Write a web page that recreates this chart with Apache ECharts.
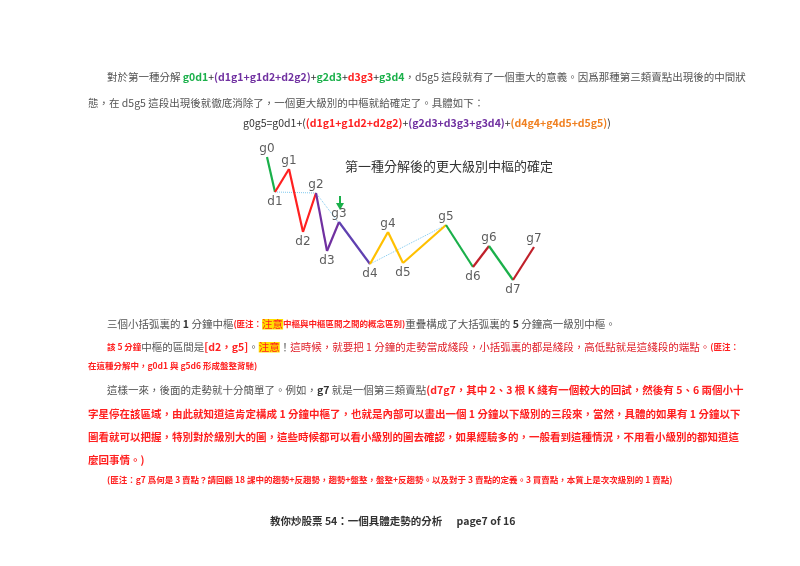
<!DOCTYPE html><html><head><meta charset="utf-8"><script src="https://cdn.jsdelivr.net/npm/echarts@6/dist/echarts.min.js"></script>
<style>body{margin:0;background:#fff}#c{width:800px;height:566px}</style></head><body><div id="c"></div><script>
const pointNames=['g0','d1','g1','d2','g2','d3','g3','d4','g4','d5','g5','d6','g6','d7','g7'];
const timeVals=[267,275,289,303,316,327,339,370,388,403,446,473,489,513,534];
const priceVals=[143,108,131,68,107,49,78,36,68,37,75,33,54,20,53];
const segColors=['#1ab04a','#ff2020','#ff2020','#ff2020','#7030a0','#7030a0','#6040b0','#ffc000','#ffc000','#ffc000','#1ab04a','#c0202a','#1ab04a','#c0202a'];
const labelBelow=[false,true,false,true,false,true,false,true,false,true,false,true,false,true,false];
const dottedPairs=[[1,4],[4,7],[7,10]];
const F='"Noto Sans CJK TC","Noto Sans CJK SC",sans-serif';
const series=[];
for(let i=0;i<segColors.length;i++){series.push({type:'line',data:[[timeVals[i],priceVals[i]],[timeVals[i+1],priceVals[i+1]]],symbol:'none',lineStyle:{color:segColors[i],width:2.2},silent:true});}
dottedPairs.forEach(p=>series.push({type:'line',data:[[timeVals[p[0]],priceVals[p[0]]],[timeVals[p[1]],priceVals[p[1]]]],symbol:'none',lineStyle:{color:'#7fc8ee',width:1,type:'dotted'},z:1}));
series.push({type:'scatter',symbolSize:0,data:pointNames.map((n,i)=>({value:[timeVals[i],priceVals[i]],label:{show:true,formatter:n,position:labelBelow[i]?'bottom':'top',distance:labelBelow[i]?4:2,fontSize:12,color:'#333',fontFamily:'DejaVu Sans'}}))});
const g='#555';
const S=10.5;
const R={g:{fill:g,fontSize:S,fontFamily:F},gb:{fill:'#333',fontSize:S,fontWeight:'bold',fontFamily:F},gr:{fill:'#1ab04a',fontWeight:'bold',fontSize:S,fontFamily:F},pu:{fill:'#7030a0',fontWeight:'bold',fontSize:S,fontFamily:F},re:{fill:'#ff2020',fontWeight:'bold',fontSize:S,fontFamily:F},or:{fill:'#f08020',fontWeight:'bold',fontSize:S,fontFamily:F},rs:{fill:'#ff2020',fontSize:8.5,fontWeight:'bold',fontFamily:F},hl:{fill:'#ff2020',backgroundColor:'#ffe000',fontSize:S,fontFamily:F},rn:{fill:'#e0202a',fontSize:S,fontFamily:F},k:{fill:'#333',fontSize:S,fontFamily:F}};
const texts=[
[107,72,'{g|對於第一種分解 }{gr|g0d1}{k|+}{pu|(d1g1+g1d2+d2g2)}{k|+}{gr|g2d3}{k|+}{re|d3g3}{k|+}{gr|g3d4}{g|，d5g5 這段就有了一個重大的意義。因爲那種第三類賣點出現後的中間狀}'],
[88,98,'{g|態，在 d5g5 這段出現後就徹底消除了，一個更大級別的中樞就給確定了。具體如下：}'],
[243,118,'{k|g0g5=g0d1+(}{re|(d1g1+g1d2+d2g2)}{k|+}{pu|(g2d3+d3g3+g3d4)}{k|+}{or|(d4g4+g4d5+d5g5)}{k|)}'],
[107,319,'{g|三個小括弧裏的 }{gb|1}{g| 分鐘中樞}{rs|(匪注：}{hl|注意}{rs|中樞與中樞區間之間的概念區別)}{g|重疊構成了大括弧裏的 }{gb|5}{g| 分鐘高一級別中樞。}'],
[107,342,'{rs|該 5 分鐘}{g|中樞的區間是}{re|[d2，g5]}{g|。}{hl|注意}{g|！}{rn|這時候，就要把 1 分鐘的走勢當成綫段，小括弧裏的都是綫段，高低點就是這綫段的端點。}{rs|(匪注：}'],
[88,362,'{rs|在這種分解中，g0d1 與 g5d6 形成盤整背馳)}'],
[107,385,'{g|這樣一來，後面的走勢就十分簡單了。例如，}{gb|g7}{g| 就是一個第三類賣點}{re|(d7g7，其中 2、3 根 K 綫有一個較大的回試，然後有 5、6 兩個小十}'],
[88,409,'{re|字星停在該區域，由此就知道這肯定構成 1 分鐘中樞了，也就是內部可以畫出一個 1 分鐘以下級別的三段來，當然，具體的如果有 1 分鐘以下}'],
[88,432,'{re|圖看就可以把握，特別對於級別大的圖，這些時候都可以看小級別的圖去確認，如果經驗多的，一般看到這種情況，不用看小級別的都知道這}'],
[88,455,'{re|麼回事情。)}'],
[107,476,'{rs|(匪注：g7 爲何是 3 賣點？請回顧 18 課中的趨勢+反趨勢，趨勢+盤整，盤整+反趨勢。以及對于 3 賣點的定義。3 買賣點，本質上是次次級別的 1 賣點)}'],
[270,516,'{gb|教你炒股票 54：一個具體走勢的分析      page7 of 16}']
];
const graphic=texts.map(t=>({type:'text',left:t[0],top:t[1],style:{text:t[2],rich:R}}));
graphic.push({type:'text',left:345,top:160,style:{text:'第一種分解後的更大級別中樞的確定',fontSize:13,fontFamily:F,fill:'#333'}});
graphic.push({type:'line',shape:{x1:340,y1:196,x2:340,y2:208},style:{stroke:'#1ab04a',lineWidth:2}});
graphic.push({type:'polygon',shape:{points:[[336,203],[344,203],[340,210]]},style:{fill:'#1ab04a'}});
const ch=echarts.init(document.getElementById('c'));
ch.setOption({animation:false,grid:{left:0,right:0,top:0,bottom:0},xAxis:{type:'value',min:0,max:800,show:false},yAxis:{type:'value',min:-266,max:300,show:false},series:series,graphic:graphic});
</script></body></html>
